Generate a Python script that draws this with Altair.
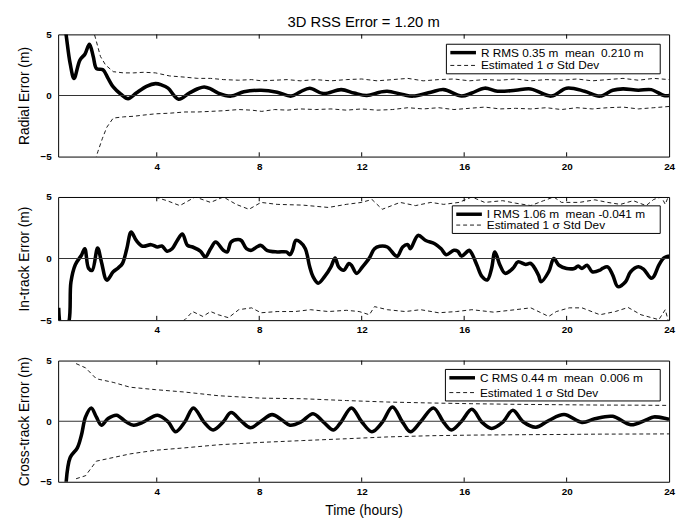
import altair as alt
import pandas as pd

FONT = "Liberation Sans"
X_DOMAIN = [0.15, 24]
Y_DOMAIN = [-5, 5]
X_TICKS = [4, 8, 12, 16, 20, 24]
Y_TICKS = [-5, 0, 5]
INNER_TICKS = [4, 8, 12, 16, 20]

TITLE = "3D RSS Error = 1.20 m"
X_TITLE = "Time (hours)"
Y_TITLES = ["Radial Error (m)", "In-track Error (m)", "Cross-track Error (m)"]
LEGEND_MAIN = ["R RMS 0.35 m\u00a0 mean\u00a0 0.210 m",
               "I RMS 1.06 m\u00a0 mean -0.041 m",
               "C RMS 0.44 m\u00a0 mean\u00a0 0.006 m"]
LEGEND_SIGMA = "Estimated 1 \u03c3 Std Dev"

# ---------------- Radial ----------------
r_h = [0.3, 0.46, 0.62, 0.77, 1.0, 1.2, 1.37, 1.52, 1.65, 1.9, 2.1, 2.3, 2.6, 2.88,
       3.2, 3.6, 3.95, 4.2, 4.44, 4.85, 5.27, 5.6, 5.85, 6.1, 6.4, 6.9, 7.4, 8.07,
       8.7, 9.25, 9.6, 9.97, 10.5, 11.2, 11.7, 12.2, 12.7, 13.0, 13.6, 14.0, 14.7,
       15.2, 15.9, 16.3, 16.8, 17.3, 18.0, 18.6, 19.4, 20.0, 20.7, 21.3, 21.8, 22.2,
       22.8, 23.3, 23.8, 24.0]
r_v = [7.5, 5.0, 2.6, 1.4, 2.9, 3.4, 4.2, 3.2, 2.2, 2.1, 1.4, 0.7, 0.1, -0.27,
       0.2, 0.75, 0.97, 0.85, 0.6, -0.3, 0.2, 0.55, 0.7, 0.55, 0.2, -0.05, 0.3, 0.43,
       0.27, -0.05, 0.3, 0.6, 0.16, 0.48, 0.2, 0.0, 0.27, 0.35, 0.08, -0.05, 0.27,
       0.48, -0.05, 0.2, 0.6, 0.35, 0.43, 0.54, -0.05, 0.6, 0.35, -0.05, 0.43, 0.54,
       0.43, 0.48, 0.0, 0.0]
r_sd_h = [1.5, 1.62, 1.8, 2.0, 2.3, 2.7, 3.1, 3.5, 3.95, 4.5, 5.1, 5.6, 6.1, 6.6,
          7.2, 7.7, 8.1, 8.6, 9.1, 9.6, 10.2, 10.8, 11.4, 12.0, 12.6, 13.2, 13.8,
          14.4, 15.0, 15.6, 16.2, 16.8, 17.4, 18.0, 18.6, 19.2, 19.8, 20.4, 21.0,
          21.6, 22.2, 22.8, 23.4, 24.0]
r_sd_up = [5.5, 4.6, 3.2, 2.5, 1.95, 1.85, 1.85, 1.9, 1.85, 1.6, 1.5, 1.4, 1.4, 1.3,
           1.25, 1.3, 1.2, 1.25, 1.3, 1.2, 1.3, 1.2, 1.3, 1.35, 1.2, 1.3, 1.4,
           1.2, 1.3, 1.35, 1.2, 1.3, 1.25, 1.35, 1.2, 1.3, 1.25, 1.35, 1.2,
           1.3, 1.4, 1.25, 1.4, 1.3]
r_sd_lo_h = [1.6, 1.7, 1.88, 2.05, 2.3, 2.7, 3.1, 3.5, 3.95, 4.5, 5.1, 5.6, 6.1, 6.6,
             7.2, 7.7, 8.1, 8.6, 9.1, 9.6, 10.2, 10.8, 11.4, 12.0, 12.6, 13.2, 13.8,
             14.4, 15.0, 15.6, 16.2, 16.8, 17.4, 18.0, 18.6, 19.2, 19.8, 20.4, 21.0,
             21.6, 22.2, 22.8, 23.4, 24.0]
r_sd_lo = [-5.3, -4.6, -3.5, -2.6, -1.85, -1.75, -1.7, -1.6, -1.5, -1.45, -1.35, -1.35,
           -1.3, -1.25, -1.15, -1.2, -1.3, -1.15, -1.2, -1.1, -1.15, -1.1, -1.2, -1.1,
           -1.2, -1.15, -1.0, -1.1, -1.0, -1.15, -1.05, -0.95, -1.1, -1.05, -1.1, -1.0,
           -1.15, -1.0, -1.1, -1.0, -0.95, -1.1, -1.0, -0.9]

# ---------------- In-track ----------------
i_h = [0.17, 0.3, 0.55, 0.65, 0.82, 1.06, 1.19, 1.34, 1.48, 1.69, 1.84, 2.05, 2.3,
       2.5, 2.66, 2.83, 3.0, 3.2, 3.45, 3.78, 4.03, 4.2, 4.4, 4.6, 4.8, 5.0, 5.2,
       5.4, 5.7, 5.9, 6.1, 6.3, 6.6, 6.75, 6.9, 7.17, 7.3, 7.5, 7.7, 7.9, 8.07,
       8.3, 8.7, 9.06, 9.2, 9.3, 9.43, 9.6, 9.8, 9.97, 10.1, 10.3, 10.55, 10.8,
       10.96, 11.1, 11.3, 11.5, 11.6, 11.8, 12.03, 12.3, 12.5, 12.7, 13.0, 13.3,
       13.4, 13.6, 13.8, 13.9, 14.2, 14.5, 14.85, 15.1, 15.3, 15.6, 15.75, 15.9,
       16.2, 16.3, 16.5, 16.7, 16.9, 17.07, 17.2, 17.4, 17.6, 17.9, 18.1, 18.4,
       18.6, 18.9, 19.0, 19.3, 19.5, 19.7, 20.0, 20.3, 20.45, 20.6, 20.8, 21.0,
       21.3, 21.4, 21.6, 21.8, 22.0, 22.3, 22.5, 22.8, 23.0, 23.3, 23.4, 23.6,
       23.8, 24.0]
i_v = [-4.0, -6.0, -5.3, -1.9, -0.5, 0.27, 0.8, -0.8, -0.95, 0.86, -0.27, -1.75, -1.07,
       -0.75, -0.4, 0.8, 2.15, 1.47, 1.0, 1.13, 0.94, 1.02, 0.6, 0.8, 1.47, 2.0, 1.07,
       0.94, 0.6, 0.13, 0.8, 1.34, 0.67, 0.54, 1.34, 1.55, 1.47, 0.8, 0.67, 0.94, 1.07,
       0.67, 0.54, 0.54, 0.32, 0.67, 1.47, 1.34, 0.8, -0.67, -1.47, -2.0, -1.47, -0.67,
       0.05, -0.67, -0.94, -0.4, -0.54, -1.2, -0.67, 0.05, 0.8, 1.0, 0.94, 0.27,
       0.2, 0.94, 1.13, 0.8, 1.88, 1.47, 1.2, 0.8, 0.32, 0.67, 0.6, 0.2,
       0.67, 0.4, -0.54, -1.47, -1.74, -0.8, 0.54, -0.54, -1.2, -0.8, -0.27, -0.48,
       -0.4, -1.34, -1.88, -1.07, 0.0, -0.54, -0.8, -0.8, -0.6, -0.8, -0.54, -1.07,
       -0.94, -0.8, -0.67, -1.34, -2.28, -1.88, -1.07, -0.67, -0.86, -1.6, -1.47, -0.54,
       0.05, 0.2]
i_sd_up_h = [3.5, 4.0, 4.4, 4.9, 5.5, 6.1, 6.6, 7.1, 7.6, 8.07, 8.7, 9.7, 10.7, 11.4,
             12.0, 12.4, 12.8, 13.5, 14.1, 14.7, 15.2, 15.8, 16.3, 16.8, 17.5, 18.0,
             18.6, 19.1, 19.5, 19.8, 20.5, 21.1, 21.6, 22.1, 22.6, 23.1, 23.4, 23.7,
             23.85, 24.0]
i_sd_up = [5.6, 4.95, 4.7, 4.3, 5.0, 4.56, 5.0, 4.4, 4.0, 4.56, 4.4, 4.34, 4.15, 4.4,
           4.56, 4.8, 4.0, 4.56, 4.3, 4.56, 4.4, 4.56, 5.0, 4.56, 4.7, 4.5,
           4.3, 4.7, 5.0, 4.56, 4.56, 4.77, 4.56, 4.4, 4.7, 4.3, 4.8, 5.0,
           4.4, 5.2]
i_sd_lo_h = [4.8, 5.1, 5.4, 5.8, 6.1, 6.4, 6.8, 7.2, 7.7, 8.07, 8.7, 9.4, 10.0, 10.7,
             11.4, 11.9, 12.3, 12.5, 13.0, 13.7, 14.3, 15.0, 15.7, 16.3, 17.15, 18.0,
             18.6, 19.3, 19.6, 20.1, 20.6, 21.3, 21.9, 22.4, 22.9, 23.6, 23.85, 24.0]
i_sd_lo = [-5.3, -4.96, -4.3, -4.7, -4.3, -4.56, -4.8, -4.15, -4.0, -4.4, -4.3, -4.3,
           -4.15, -4.3, -4.2, -4.3, -4.56, -3.9, -4.15, -4.3, -4.15, -4.4, -4.3, -4.15,
           -4.35, -4.15, -4.0, -4.7, -4.3, -4.0, -4.0, -4.56, -4.3, -3.97, -4.56, -4.96,
           -4.15, -5.3]

# ---------------- Cross-track ----------------
c_h = [0.45, 0.62, 0.9, 1.06, 1.22, 1.44, 1.64, 1.84, 2.1, 2.43, 2.8, 3.1, 3.45, 4.03,
       4.44, 4.74, 5.1, 5.43, 5.85, 6.2, 6.6, 6.9, 7.3, 7.66, 8.07, 8.5, 8.9, 9.2,
       9.64, 10.1, 10.5, 10.9, 11.2, 11.6, 12.0, 12.4, 12.8, 13.2, 13.6, 13.9, 14.3,
       14.8, 15.2, 15.5, 15.9, 16.3, 16.7, 17.07, 17.5, 17.9, 18.3, 18.8, 19.3, 19.9,
       20.6, 21.1, 21.8, 22.5, 23.1, 23.4, 23.9, 24.0]
c_v = [-5.4, -3.0, -2.2, -1.14, 0.35, 1.09, 0.35, -0.33, 0.22, 0.49, -0.05, -0.33, -0.1,
       0.49, -0.05, -0.87, -0.05, 1.09, -0.1, -0.73, -0.05, 0.71, 0.0, -0.54, 0.0, 0.54,
       0.08, -0.33, -0.05, 0.62, -0.05, -0.73, -0.05, 1.09, -0.05, -0.87, -0.1, 1.17,
       -0.1, -0.87, -0.05, 1.09, -0.1, -0.73, 0.0, 0.98, -0.1, -0.6, -0.1, 0.9, -0.05,
       -0.5, 0.05, 0.55, -0.1, 0.2, 0.4, -0.3, 0.1, 0.35, 0.2, 0.15]
c_sd_h = [0.85, 1.22, 1.64, 2.3, 2.96, 3.95, 5.1, 6.4, 8.07, 9.7, 11.4, 13.0, 14.7,
          16.3, 18.0, 19.6, 21.2, 22.8, 24.0]
c_sd_up = [4.75, 4.4, 3.5, 3.2, 2.8, 2.6, 2.4, 2.1, 1.9, 1.85, 1.7, 1.58, 1.5,
           1.44, 1.39, 1.36, 1.33, 1.32, 1.3]
c_sd_lo = [-4.75, -4.5, -3.3, -3.0, -2.7, -2.4, -2.2, -1.95, -1.75, -1.6, -1.45, -1.3,
           -1.2, -1.15, -1.12, -1.1, -1.07, -1.06, -1.05]

PANEL_HEIGHTS = [124, 125, 123]
WIDTH = 620
# legend box per panel: (left, top, bottom) relative to the plot area
LEGEND_BOXES = [(394, 10, 40), (400, 9, 37), (393, 9, 41)]

x_scale = alt.Scale(domain=X_DOMAIN, nice=False, zero=False)
y_scale = alt.Scale(domain=Y_DOMAIN, nice=False)


def make_panel(h, v, up_h, up_v, lo_h, lo_v, ytitle, leg_label, height, show_xtitle, lbox):
    main = pd.DataFrame({"h": h, "v": v})
    up = pd.DataFrame({"h": up_h, "v": up_v})
    lo = pd.DataFrame({"h": lo_h, "v": lo_v})

    x_axis = alt.Axis(values=X_TICKS, labelFontWeight="bold", labelFontSize=10,
                      labelFont=FONT, ticks=False, domain=False, grid=False,
                      labelPadding=5, labelFlush=False, labelOverlap=False,
                      labelColor="black",
                      title=X_TITLE if show_xtitle else None,
                      titleFont=FONT, titleFontSize=14, titleFontWeight="normal",
                      titleColor="black", titleY=22, titleBaseline="top")
    y_axis = alt.Axis(values=Y_TICKS, labelFontWeight="bold", labelFontSize=10,
                      labelFont=FONT, ticks=False, domain=False, grid=False,
                      labelPadding=7, labelFlush=False, labelOverlap=False,
                      labelColor="black",
                      title=ytitle, titleFont=FONT, titleFontSize=14,
                      titleFontWeight="normal", titleColor="black",
                      titleAngle=270, titleBaseline="bottom", titleAlign="center",
                      titleX=-27, titleY=height / 2)

    base_x = alt.X("h:Q", scale=x_scale, axis=x_axis)
    base_y = alt.Y("v:Q", scale=y_scale, axis=y_axis)

    zero = alt.Chart(pd.DataFrame({"z": [0]})).mark_rule(
        color="#333", strokeWidth=1.1).encode(y=alt.Y("z:Q", scale=y_scale))

    ticks_df = pd.DataFrame({"t": INNER_TICKS})
    top_ticks = alt.Chart(ticks_df).mark_rule(color="black", strokeWidth=1).encode(
        x=alt.X("t:Q", scale=x_scale), y=alt.datum(5), y2=alt.datum(4.65))
    bot_ticks = alt.Chart(ticks_df).mark_rule(color="black", strokeWidth=1).encode(
        x=alt.X("t:Q", scale=x_scale), y=alt.datum(-5), y2=alt.datum(-4.65))

    sd_up = alt.Chart(up).mark_line(color="black", strokeWidth=0.9,
                                    strokeDash=[4, 3], clip=True).encode(
        x=alt.X("h:Q", scale=x_scale), y=alt.Y("v:Q", scale=y_scale))
    sd_lo = alt.Chart(lo).mark_line(color="black", strokeWidth=0.9,
                                    strokeDash=[4, 3], clip=True).encode(
        x=alt.X("h:Q", scale=x_scale), y=alt.Y("v:Q", scale=y_scale))
    err = alt.Chart(main).mark_line(color="black", strokeWidth=3.6, clip=True,
                                    interpolate="catmull-rom").encode(
        x=base_x, y=base_y)

    bl, bt, bb = lbox
    r1 = bt + 8.5
    r2 = bb - 8.5
    one = pd.DataFrame({"a": [0]})
    box = alt.Chart(one).mark_rect(fill="white", stroke="black", strokeWidth=1).encode(
        x=alt.value(bl), x2=alt.value(611), y=alt.value(bt), y2=alt.value(bb))
    s1 = alt.Chart(one).mark_rule(color="black", strokeWidth=3.5).encode(
        x=alt.value(bl + 4), x2=alt.value(bl + 30), y=alt.value(r1))
    s2 = alt.Chart(one).mark_rule(color="black", strokeWidth=0.9, strokeDash=[4, 3]).encode(
        x=alt.value(bl + 4), x2=alt.value(bl + 30), y=alt.value(r2))
    t1 = alt.Chart(one).mark_text(align="left", baseline="middle", font=FONT,
                                  fontSize=12, color="black", text=leg_label).encode(
        x=alt.value(bl + 35), y=alt.value(r1))
    t2 = alt.Chart(one).mark_text(align="left", baseline="middle", font=FONT,
                                  fontSize=12, color="black", text=LEGEND_SIGMA).encode(
        x=alt.value(bl + 35), y=alt.value(r2))

    layers = [err, zero, top_ticks, bot_ticks, sd_up, sd_lo, box, s1, s2, t1, t2]
    return alt.layer(*layers).properties(width=WIDTH, height=height)


p1 = make_panel(r_h, r_v, r_sd_h, r_sd_up, r_sd_lo_h, r_sd_lo, Y_TITLES[0],
                LEGEND_MAIN[0], PANEL_HEIGHTS[0], False, LEGEND_BOXES[0])
title_layer = alt.Chart(pd.DataFrame({"a": [0]})).mark_text(
    align="center", baseline="alphabetic", font=FONT, fontSize=15,
    color="black", text=TITLE).encode(x=alt.value(310), y=alt.value(-8))
p1 = alt.layer(p1, title_layer)
p2 = make_panel(i_h, i_v, i_sd_up_h, i_sd_up, i_sd_lo_h, i_sd_lo, Y_TITLES[1],
                LEGEND_MAIN[1], PANEL_HEIGHTS[1], False, LEGEND_BOXES[1])
p3 = make_panel(c_h, c_v, c_sd_h, c_sd_up, c_sd_h, c_sd_lo, Y_TITLES[2],
                LEGEND_MAIN[2], PANEL_HEIGHTS[2], True, LEGEND_BOXES[2])

chart = alt.vconcat(p1, p2, p3, spacing=41, bounds="flush").properties(
    padding={"left": 17, "top": 10, "right": 0, "bottom": 5},
    background="white",
).configure_view(stroke="black", strokeWidth=1)

chart.save("out.html", embed_options={"renderer": "svg", "actions": False})
